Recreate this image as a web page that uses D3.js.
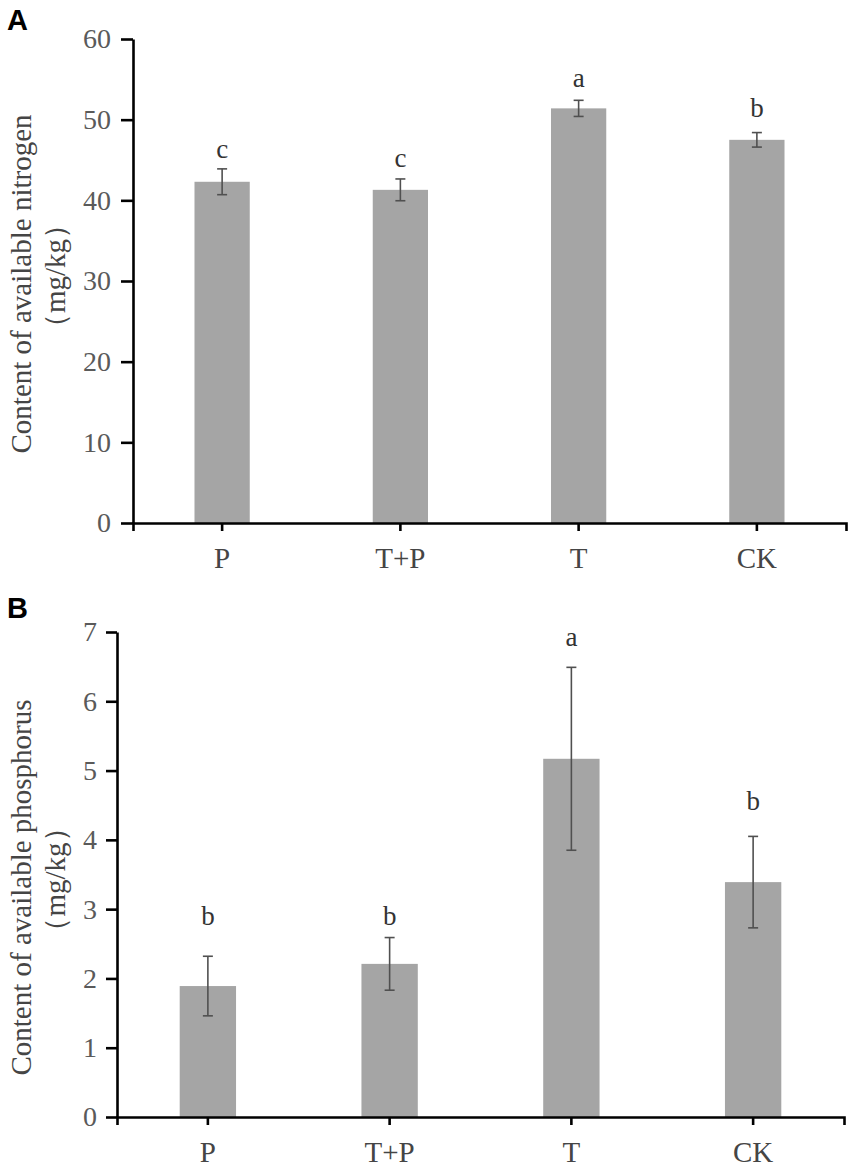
<!DOCTYPE html>
<html>
<head>
<meta charset="utf-8">
<script src="https://cdn.jsdelivr.net/npm/d3@7"></script>
<style>
  body { margin: 0; background: #fff; }
  svg { display: block; }
</style>
</head>
<body>
<div id="chart"></div>
<script>
// ---- data ----
const categories = ['P', 'T+P', 'T', 'CK'];

const nitrogenMean = [42.3, 41.3, 51.4, 47.5];
const nitrogenErr = [1.6, 1.35, 1.0, 0.9];
const nitrogenLetters = ['c', 'c', 'a', 'b'];
const nitrogenLetterLevel = [45.3, 44.1, 54.1, 50.3];
const nitrogenTicks = [0, 10, 20, 30, 40, 50, 60];

const phosphorusMean = [1.89, 2.21, 5.17, 3.39];
const phosphorusErr = [0.43, 0.38, 1.32, 0.66];
const phosphorusLetters = ['b', 'b', 'a', 'b'];
const phosphorusLetterLevel = [2.77, 2.77, 6.8, 4.43];
const phosphorusTicks = [0, 1, 2, 3, 4, 5, 6, 7];

const width = 851, height = 1171;
const serif = '"Liberation Serif", "Times New Roman", serif';

const svg = d3.select('#chart')
  .append('svg')
  .attr('width', width)
  .attr('height', height);

// Draw one panel of the figure
const drawPanel = (opts) => {
  const g = svg.append('g');

  const x = d3.scaleBand()
    .domain(categories)
    .range([opts.left, opts.right])
    .padding(0);

  const y = d3.scaleLinear()
    .domain([0, d3.max(opts.ticks)])
    .range([opts.bottom, opts.top]);

  const rows = categories.map((c, i) => ({
    cat: c,
    mean: opts.mean[i],
    err: opts.err[i],
    letter: opts.letters[i],
    level: opts.letterLevel[i]
  }));

  const barW = x.bandwidth() * 0.31;
  const cx = d => x(d.cat) + x.bandwidth() / 2;

  // bars
  g.selectAll('rect.bar')
    .data(rows)
    .enter()
    .append('rect')
    .attr('class', 'bar')
    .attr('x', d => cx(d) - barW / 2)
    .attr('y', d => y(d.mean))
    .attr('width', barW)
    .attr('height', d => y(0) - y(d.mean))
    .attr('fill', '#a5a5a5');

  // error bars
  const eb = g.selectAll('g.err')
    .data(rows)
    .enter()
    .append('g')
    .attr('class', 'err')
    .attr('stroke', '#505050')
    .attr('stroke-width', 1.6);

  eb.append('line')
    .attr('x1', cx).attr('x2', cx)
    .attr('y1', d => y(d.mean + d.err))
    .attr('y2', d => y(d.mean - d.err));
  eb.append('line')
    .attr('x1', d => cx(d) - 5).attr('x2', d => cx(d) + 5)
    .attr('y1', d => y(d.mean + d.err)).attr('y2', d => y(d.mean + d.err));
  eb.append('line')
    .attr('x1', d => cx(d) - 5).attr('x2', d => cx(d) + 5)
    .attr('y1', d => y(d.mean - d.err)).attr('y2', d => y(d.mean - d.err));

  // significance letters
  g.selectAll('text.sig')
    .data(rows)
    .enter()
    .append('text')
    .attr('class', 'sig')
    .attr('x', cx)
    .attr('y', d => y(d.level))
    .attr('text-anchor', 'middle')
    .attr('font-family', serif)
    .attr('font-size', '27px')
    .attr('fill', '#333')
    .text(d => d.letter);

  // y axis
  const yAxis = g.append('g')
    .attr('transform', `translate(${opts.left},0)`)
    .call(d3.axisLeft(y)
      .tickValues(opts.ticks)
      .tickFormat(d3.format('d'))
      .tickSize(opts.tickLen)
      .tickSizeOuter(0)
      .tickPadding(opts.tickPad));

  yAxis.selectAll('.domain, line')
    .attr('stroke', '#000')
    .attr('stroke-width', 2.6);
  yAxis.selectAll('text')
    .attr('font-family', serif)
    .attr('font-size', '28px')
    .attr('fill', '#5a5a5a');

  // x axis
  const xAxis = g.append('g')
    .attr('transform', `translate(0,${opts.bottom})`)
    .call(d3.axisBottom(x)
      .tickSize(8)
      .tickSizeOuter(8)
      .tickPadding(16));

  xAxis.selectAll('.domain, line')
    .attr('stroke', '#000')
    .attr('stroke-width', 2.6);
  xAxis.selectAll('text')
    .attr('font-family', serif)
    .attr('font-size', '29px')
    .attr('fill', '#454545');

  // axis title (two lines)
  const mid = (opts.titleTop + opts.titleBottom) / 2;
  g.append('text')
    .attr('transform', `translate(31,${mid}) rotate(-90)`)
    .attr('text-anchor', 'middle')
    .attr('font-family', serif)
    .attr('font-size', '29px')
    .attr('fill', '#454545')
    .text(opts.title);
  g.append('text')
    .attr('transform', `translate(65,${mid - 8}) rotate(-90)`)
    .attr('text-anchor', 'middle')
    .attr('font-family', serif)
    .attr('font-size', '29px')
    .attr('fill', '#454545')
    .text('（mg/kg）');

  // panel letter
  svg.append('text')
    .attr('x', 7)
    .attr('y', opts.letterY)
    .attr('font-family', '"Liberation Sans", Arial, sans-serif')
    .attr('font-weight', 'bold')
    .attr('font-size', '29px')
    .attr('fill', '#000')
    .text(opts.panel);
};

drawPanel({
  panel: 'A', letterY: 30,
  mean: nitrogenMean, err: nitrogenErr,
  letters: nitrogenLetters, letterLevel: nitrogenLetterLevel,
  ticks: nitrogenTicks,
  left: 133, right: 846, top: 39, bottom: 523,
  tickLen: 12, tickPad: 10,
  title: 'Content of available nitrogen',
  titleTop: 105, titleBottom: 463
});

drawPanel({
  panel: 'B', letterY: 618,
  mean: phosphorusMean, err: phosphorusErr,
  letters: phosphorusLetters, letterLevel: phosphorusLetterLevel,
  ticks: phosphorusTicks,
  left: 117, right: 844, top: 632, bottom: 1117,
  tickLen: 11, tickPad: 9,
  title: 'Content of available phosphorus',
  titleTop: 705, titleBottom: 1070
});
</script>
</body>
</html>
